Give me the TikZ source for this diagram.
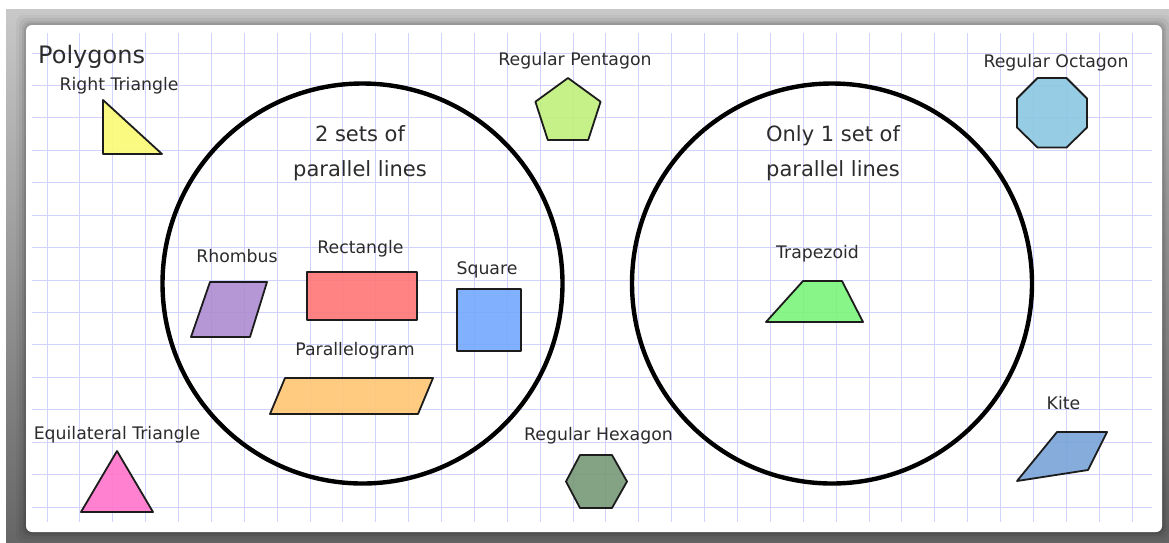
\documentclass[tikz,border=0pt]{standalone}
\usepackage{fontspec}
\setmainfont{DejaVu Sans}
\definecolor{labelgray}{HTML}{2C2C2C}
\definecolor{edge}{HTML}{1C1C1C}
\definecolor{gridblue}{HTML}{D2D2FF}
\definecolor{frametop}{HTML}{C8C8C8}
\definecolor{framebot}{HTML}{666666}
\definecolor{rtri}{HTML}{FAFA74}
\definecolor{pent}{HTML}{C0F07C}
\definecolor{oct}{HTML}{8CC8E2}
\definecolor{rhomb}{HTML}{AC8CD0}
\definecolor{rect}{HTML}{FF7676}
\definecolor{sqr}{HTML}{74A8FF}
\definecolor{para}{HTML}{FFC674}
\definecolor{trap}{HTML}{7AF47A}
\definecolor{etri}{HTML}{FF74CA}
\definecolor{hexa}{HTML}{779877}
\definecolor{kite}{HTML}{78A4D6}
\begin{document}
\begin{tikzpicture}[x=1pt,y=-1pt,
  lbl/.style={font=\fontsize{17.3}{20}\selectfont, text=labelgray, inner sep=0pt, anchor=base},
  big/.style={font=\fontsize{21}{24}\selectfont, text=labelgray, inner sep=0pt, anchor=base},
  poly/.style={draw=edge, line width=1.8pt, line join=round, fill opacity=0.9},
  setring/.style={draw=black, line width=4.4pt},
  gridline/.style={draw=gridblue, line width=1pt}]
\useasboundingbox (0,0) rectangle (1169,542);
\fill[white] (0,0) rectangle (1169,542);
% grey frame behind the sheet
\shade[top color=frametop, bottom color=framebot] (6,9) rectangle (1169,542);
% soft shadow round the sheet
\foreach \d/\o in {10/0.04,7/0.05,4/0.07,2/0.09}
  \fill[black, opacity=\o, rounded corners=8pt] ({26-\d},{25-\d}) rectangle ({1162+\d},{532+\d});
% the sheet
\fill[white, rounded corners=6pt] (26,25) rectangle (1162,532);
% squared paper
\foreach \k in {0,...,33}
  \draw[gridline] ({47+32.88*\k},33) -- ({47+32.88*\k},522);
\foreach \k in {0,...,14}
  \draw[gridline] (32,{53+32.43*\k}) -- (1152,{53+32.43*\k});

% the two sets
\draw[setring] (362.5,283.5) circle[radius=200pt];
\draw[setring] (832,283.5) circle[radius=200pt];

% title
\node[font=\fontsize{24}{28}\selectfont, text=labelgray, inner sep=0pt, anchor=base west] (title) at (38,63) {Polygons};

% set captions
\node[big] (twoA) at (360,141) {2 sets of};
\node[big] (twoB) at (360,176) {parallel lines};
\node[big] (oneA) at (833,141) {Only 1 set of};
\node[big] (oneB) at (833,176) {parallel lines};

% shape labels
\node[lbl] (lrt) at (119,90) {Right Triangle};
\node[lbl] (lpent) at (575,65) {Regular Pentagon};
\node[lbl] (loct) at (1056,67) {Regular Octagon};
\node[lbl] (lrhomb) at (237,262.5) {Rhombus};
\node[lbl] (lrect) at (360.5,253) {Rectangle};
\node[lbl] (lsq) at (487,274) {Square};
\node[lbl] (lpara) at (355,355) {Parallelogram};
\node[lbl] (ltrap) at (817.5,258) {Trapezoid};
\node[lbl] (letri) at (117,439) {Equilateral Triangle};
\node[lbl] (lhex) at (598.5,440) {Regular Hexagon};
\node[lbl] (lkite) at (1063.5,409) {Kite};

% shapes
\draw[poly, fill=rtri] (103,100) -- (103,154) -- (162,154) -- cycle;
\draw[poly, fill=pent] (568,78) -- (600.6,101.7) -- (588.2,140) -- (547.8,140) -- (535.4,101.7) -- cycle;
\draw[poly, fill=oct] (1037.5,78) -- (1066.5,78) -- (1087,98.5) -- (1087,127.5) -- (1066.5,147.5) -- (1037.5,147.5) -- (1017,127.5) -- (1017,98.5) -- cycle;
\draw[poly, fill=rhomb] (210,282) -- (267,282) -- (250,337) -- (191,337) -- cycle;
\draw[poly, fill=rect] (307,272) rectangle (417,320);
\draw[poly, fill=sqr] (457,289) rectangle (521,351);
\draw[poly, fill=para] (285,378) -- (433,378) -- (418,414) -- (270,414) -- cycle;
\draw[poly, fill=trap] (803,281) -- (842,281) -- (863,322) -- (766,322) -- cycle;
\draw[poly, fill=etri] (117,451) -- (153,512) -- (81,512) -- cycle;
\draw[poly, fill=hexa] (566,481.5) -- (580,455) -- (612,455) -- (627,481.5) -- (612,508) -- (580,508) -- cycle;
\draw[poly, fill=kite] (1057,432) -- (1107,432) -- (1088,470) -- (1017,481) -- cycle;
\end{tikzpicture}
\end{document}
